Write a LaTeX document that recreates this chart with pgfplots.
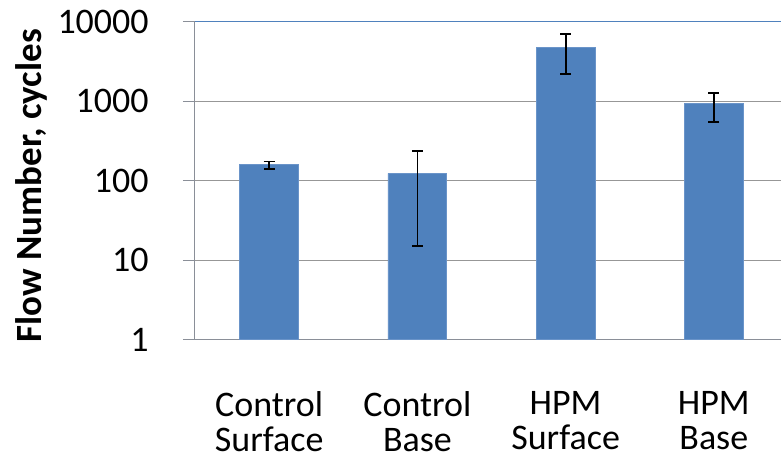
\documentclass[border=0pt]{standalone}
\usepackage{pgfplots}
\pgfplotsset{compat=1.18}
\usepackage{fontspec}
\setmainfont{Carlito}
\definecolor{barblue}{HTML}{4F81BD}
\definecolor{baredge}{HTML}{6A94C9}
\definecolor{gridgray}{HTML}{979797}
\definecolor{axgray}{HTML}{8A8F98}
\begin{document}
\begin{tikzpicture}
\begin{axis}[
    at={(0,0)}, anchor=south west,
    scale only axis,
    width=587bp, height=318.3bp,
    ymode=log, log basis y=10,
    ymin=1, ymax=10000,
    xmin=-0.502, xmax=3.455,
    axis x line*=bottom, axis y line*=left,
    axis line style={draw=axgray, line width=1.3bp},
    ytick={1,10,100,1000},
    yticklabels={1,10,100,1000},
    extra y ticks={10000},
    extra y tick labels={10000},
    extra y tick style={grid style={draw=barblue, line width=1.5bp}},
    ymajorgrids,
    grid style={draw=gridgray, line width=1.3bp},
    minor y tick num=0,
    yminorticks=false,
    tick align=outside,
    major tick length=12bp,
    y tick style={draw=axgray, line width=1.3bp},
    xtick=data,
    x tick style={draw=none},
    xticklabels={{Control\\Surface},{Control\\Base},{HPM\\Surface},{HPM\\Base}},
    xticklabel style={align=center, inner sep=0pt, yshift=-40bp,
        font=\fontsize{36bp}{35bp}\selectfont},
    yticklabel style={inner sep=0pt, xshift=-34bp,
        font=\fontsize{36bp}{36bp}\selectfont},
    ylabel={Flow Number, cycles},
    ylabel style={at={(axis description cs:-0.279,0.484)}, anchor=center,
        font=\fontsize{37bp}{38bp}\selectfont\bfseries},
    ybar, bar width=59bp,
    clip=false,
]
\addplot[fill=barblue, draw=baredge, line width=0.8bp,
    error bars/.cd, y dir=both, y explicit,
    error bar style={black, line width=1.8bp},
    error mark options={rotate=90, black, mark size=5.5bp, line width=1.8bp}]
coordinates {
    (0,161)  += (0,13)   -= (0,20)
    (1,124)  += (0,113)  -= (0,109)
    (2,4755) += (0,2290) -= (0,2577)
    (3,941)  += (0,316)  -= (0,388)
};
\end{axis}
\path[use as bounding box] (-195bp,-121bp) rectangle (587bp,340bp);
\end{tikzpicture}
\end{document}
